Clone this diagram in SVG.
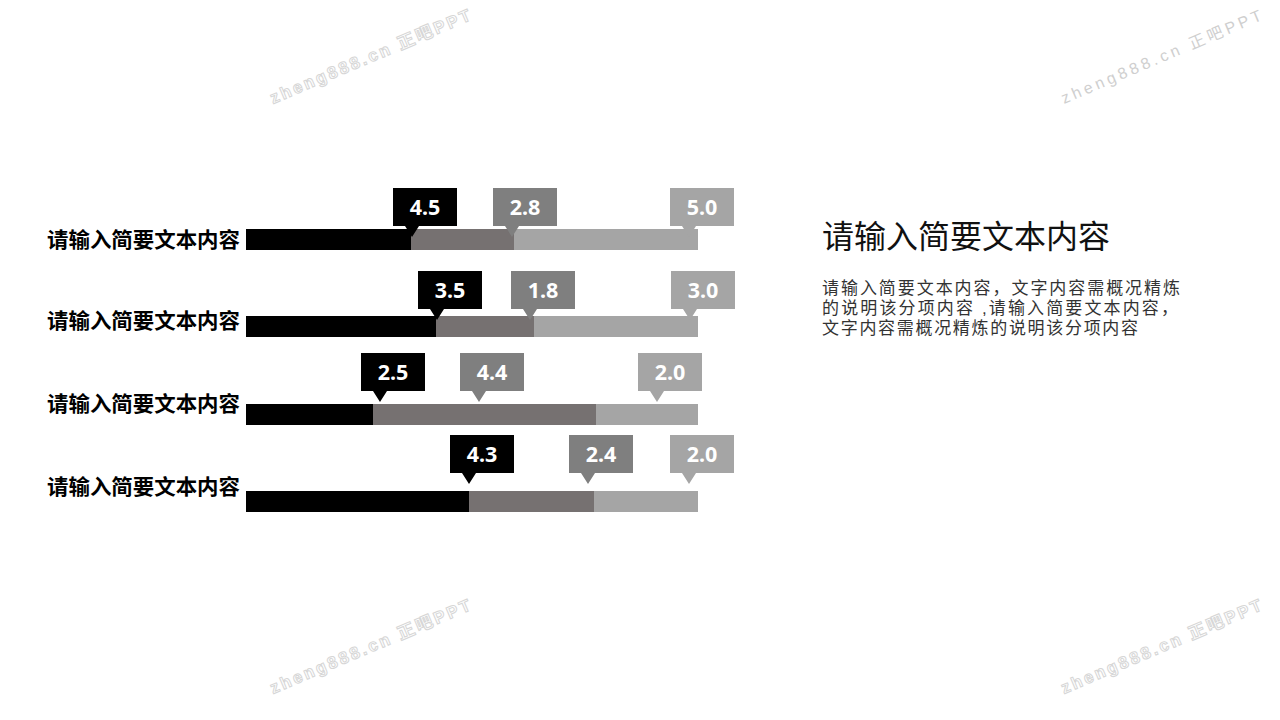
<svg xmlns="http://www.w3.org/2000/svg" width="1280" height="720" viewBox="0 0 1280 720">
<style>
.bk{fill:#000000}
.dk{fill:#767171}
.lt{fill:#A5A5A5}
.cb{fill:#000000}
.cd{fill:#7F7F7F}
.cl{fill:#A5A5A5}
.num{font-family:"Noto Sans","Open Sans","Noto Sans CJK SC",sans-serif;font-weight:bold;font-size:21.5px;fill:#FFFFFF;text-anchor:middle}
.lab{font-family:"Noto Sans CJK SC",sans-serif;font-weight:bold;font-size:21px;fill:#000000}
.title{font-family:"Noto Sans CJK SC",sans-serif;font-size:32px;fill:#111111}
.body{font-family:"Liberation Sans","Noto Sans CJK SC",sans-serif;font-size:17px;fill:#333333}
.wm1{font-family:"Liberation Sans","Noto Sans CJK SC",sans-serif;font-weight:bold;font-size:17px;fill:#FFFFFF;stroke:#D6D6D6;stroke-width:1}
.wm2{font-family:"Liberation Sans","Noto Sans CJK SC",sans-serif;font-size:16px;fill:#CFCFCF}
</style>
<defs>
<path id="co" d="M0,0 h64 v38 h-38 l-7,11 l-7,-11 h-12 z"/>
</defs>

<g id="watermarks">
<text class="wm1" transform="translate(273,104) rotate(-23)" textLength="216" lengthAdjust="spacing">zheng888.cn 正吧PPT</text>
<text class="wm2" transform="translate(1064,104) rotate(-23)" textLength="216" lengthAdjust="spacing">zheng888.cn 正吧PPT</text>
<text class="wm1" transform="translate(273,694) rotate(-23)" textLength="216" lengthAdjust="spacing">zheng888.cn 正吧PPT</text>
<text class="wm1" transform="translate(1064,694) rotate(-23)" textLength="216" lengthAdjust="spacing">zheng888.cn 正吧PPT</text>
</g>

<g id="row1">
<text class="lab" x="47" y="247" textLength="193" lengthAdjust="spacingAndGlyphs">请输入简要文本内容</text>
<rect class="bk" x="246" y="229" width="165" height="21"/>
<rect class="dk" x="411" y="229" width="103" height="21"/>
<rect class="lt" x="514" y="229" width="184" height="21"/>
<use href="#co" class="cb" x="393" y="188"/>
<text class="num" x="425" y="215">4.5</text>
<use href="#co" class="cd" x="493" y="188"/>
<text class="num" x="525" y="215">2.8</text>
<use href="#co" class="cl" x="670" y="188"/>
<text class="num" x="702" y="215">5.0</text>
</g>

<g id="row2">
<text class="lab" x="47" y="328" textLength="193" lengthAdjust="spacingAndGlyphs">请输入简要文本内容</text>
<rect class="bk" x="246" y="316" width="190" height="21"/>
<rect class="dk" x="436" y="316" width="98" height="21"/>
<rect class="lt" x="534" y="316" width="164" height="21"/>
<use href="#co" class="cb" x="418" y="271"/>
<text class="num" x="450" y="298">3.5</text>
<use href="#co" class="cd" x="511" y="271"/>
<text class="num" x="543" y="298">1.8</text>
<use href="#co" class="cl" x="671" y="271"/>
<text class="num" x="703" y="298">3.0</text>
</g>

<g id="row3">
<text class="lab" x="47" y="411" textLength="193" lengthAdjust="spacingAndGlyphs">请输入简要文本内容</text>
<rect class="bk" x="246" y="404" width="127" height="21"/>
<rect class="dk" x="373" y="404" width="223" height="21"/>
<rect class="lt" x="596" y="404" width="102" height="21"/>
<use href="#co" class="cb" x="361" y="353"/>
<text class="num" x="393" y="380">2.5</text>
<use href="#co" class="cd" x="460" y="353"/>
<text class="num" x="492" y="380">4.4</text>
<use href="#co" class="cl" x="638" y="353"/>
<text class="num" x="670" y="380">2.0</text>
</g>

<g id="row4">
<text class="lab" x="47" y="494" textLength="193" lengthAdjust="spacingAndGlyphs">请输入简要文本内容</text>
<rect class="bk" x="246" y="491" width="223" height="21"/>
<rect class="dk" x="469" y="491" width="125" height="21"/>
<rect class="lt" x="594" y="491" width="104" height="21"/>
<use href="#co" class="cb" x="450" y="435"/>
<text class="num" x="482" y="462">4.3</text>
<use href="#co" class="cd" x="569" y="435"/>
<text class="num" x="601" y="462">2.4</text>
<use href="#co" class="cl" x="670" y="435"/>
<text class="num" x="702" y="462">2.0</text>
</g>

<g id="description">
<text class="title" x="822" y="248">请输入简要文本内容</text>
<text class="body" x="822" y="294" textLength="358" lengthAdjust="spacing">请输入简要文本内容，文字内容需概况精炼</text>
<text class="body" x="822" y="314" textLength="356" lengthAdjust="spacing">的说明该分项内容 ,请输入简要文本内容，</text>
<text class="body" x="822" y="334" textLength="316" lengthAdjust="spacing">文字内容需概况精炼的说明该分项内容</text>
</g>
</svg>
